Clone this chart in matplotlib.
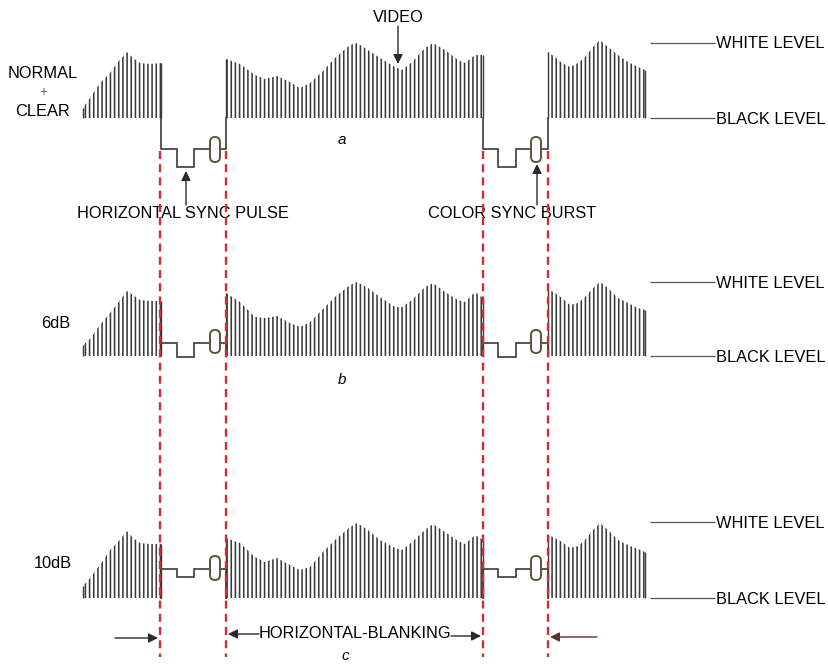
import matplotlib
matplotlib.use('Agg')
import matplotlib.pyplot as plt
from matplotlib.patches import FancyBboxPatch

plt.rcParams['font.family'] = ['Liberation Sans', 'DejaVu Sans']
plt.rcParams['hatch.linewidth'] = 1.15
plt.rcParams['hatch.color'] = '#3c3c3c'

# envelope sample positions of the three video stretches (same in each trace)
seg1_x = [83, 90, 100, 110, 118, 127, 133, 140, 150, 161]
seg2_x = [226, 240, 255, 265, 277, 290, 300, 310, 322, 335, 350, 357, 368,
          380, 395, 402, 412, 425, 433, 445, 458, 465, 475, 483]
seg3_x = [548, 555, 562, 570, 578, 585, 593, 600, 608, 618, 628, 638, 645]

# envelope tops (figure pixel rows) for traces a, b, c
a_seg1 = [108, 98, 83, 73, 62, 52, 58, 63, 64, 63]
a_seg2 = [59, 64, 75, 79, 76, 82, 88, 83, 72, 58, 45, 43, 50, 58, 67, 70,
          62, 48, 43, 50, 60, 63, 55, 55]
a_seg3 = [52, 57, 63, 67, 63, 57, 47, 40, 47, 55, 62, 67, 70]

b_seg1 = [345, 339, 325, 313, 303, 291, 295, 300, 301, 301]
b_seg2 = [293, 302, 317, 318, 316, 323, 327, 322, 310, 297, 285, 282, 288,
          297, 307, 307, 300, 287, 283, 292, 300, 302, 292, 298]
b_seg3 = [289, 293, 298, 305, 303, 297, 288, 282, 288, 298, 303, 308, 310]

c_seg1 = [586, 578, 565, 550, 542, 531, 538, 543, 544, 544]
c_seg2 = [538, 543, 557, 562, 558, 565, 570, 567, 553, 540, 527, 523, 530,
          540, 548, 550, 542, 530, 524, 532, 541, 544, 535, 540]
c_seg3 = [535, 538, 542, 548, 546, 540, 530, 523, 530, 540, 545, 549, 552]

# levels per trace
black_lvl = [118, 356, 598]
white_lvl = [43, 282, 522]
blank_lvl = [149, 343, 569]
sync_tip = [167, 357, 577]
burst_top = [137, 330, 556]
burst_bot = [162, 353, 580]

# blanking interval timing
blank_x = [161, 483]
pulse_x0 = [177, 498]
pulse_x1 = [194, 516]
burst_x = [215, 536]
video_x = [226, 548]
marker_x = [160, 226, 483, 548]

traces = [(a_seg1, a_seg2, a_seg3), (b_seg1, b_seg2, b_seg3), (c_seg1, c_seg2, c_seg3)]

fig = plt.figure(figsize=(8.29, 6.66), dpi=100)
ax = fig.add_axes([0, 0, 1, 1])
ax.set_xlim(0, 829)
ax.set_ylim(666, 0)
ax.axis('off')

line_col = '#3a3a3a'
red = '#d42a3a'
fs = 11.8

for i, segs in enumerate(traces):
    base = black_lvl[i]
    # video bars
    for sx, sy in zip([seg1_x, seg2_x, seg3_x], segs):
        ax.fill_between(sx, sy, base, facecolor='none', edgecolor=line_col,
                        hatch='||||', linewidth=0)
        ax.vlines([sx[0], sx[-1]], [sy[0], sy[-1]], base, color=line_col, lw=1.0)
    # blanking / sync / burst
    for k in range(2):
        xs = [blank_x[k], blank_x[k], pulse_x0[k], pulse_x0[k], pulse_x1[k],
              pulse_x1[k], video_x[k], video_x[k]]
        ys = [base, blank_lvl[i], blank_lvl[i], sync_tip[i], sync_tip[i],
              blank_lvl[i], blank_lvl[i], base]
        ax.plot(xs, ys, color=line_col, lw=1.2, solid_joinstyle='miter')
        w = 10
        h = burst_bot[i] - burst_top[i]
        ax.add_patch(FancyBboxPatch((burst_x[k] - w / 2, burst_top[i]), w, h,
                                    boxstyle=f'round,pad=0,rounding_size={w / 2}',
                                    facecolor='white', edgecolor='#5e5238', lw=1.4,
                                    zorder=3))
    # level references
    ax.hlines([white_lvl[i], black_lvl[i]], 650, 715, color='#555555', lw=0.9)
    ax.text(716, white_lvl[i] + 1, 'WHITE LEVEL', fontsize=fs, va='center', ha='left')
    ax.text(716, black_lvl[i] + 1, 'BLACK LEVEL', fontsize=fs, va='center', ha='left')

# side labels
ax.text(43, 73, 'NORMAL', fontsize=fs, ha='center', va='center')
ax.text(43, 92, '+', fontsize=10, ha='center', va='center', color='#666666')
ax.text(43, 112, 'CLEAR', fontsize=fs, ha='center', va='center')
ax.text(56, 323, '6dB', fontsize=fs, ha='center', va='center')
ax.text(53, 564, '10dB', fontsize=fs, ha='center', va='center')

ax.text(342, 140, 'a', fontsize=11, style='italic', ha='center', va='center')
ax.text(342, 380, 'b', fontsize=11, style='italic', ha='center', va='center')
ax.text(345, 656, 'c', fontsize=11, style='italic', ha='center', va='center')

arrow = dict(arrowstyle='-|>', color='#2a2a2a', lw=1.0, mutation_scale=14,
             shrinkA=0, shrinkB=0)

ax.text(398, 17, 'VIDEO', fontsize=fs, ha='center', va='center')
ax.annotate('', xy=(398, 64), xytext=(398, 26), arrowprops=arrow)

ax.text(183, 214, 'HORIZONTAL SYNC PULSE', fontsize=fs, ha='center', va='center')
ax.annotate('', xy=(186, 171), xytext=(186, 205), arrowprops=arrow)
ax.text(512, 214, 'COLOR SYNC BURST', fontsize=fs, ha='center', va='center')
ax.annotate('', xy=(537, 164), xytext=(537, 205), arrowprops=arrow)

# timing markers
ax.vlines(marker_x, 151, 657, color=red, lw=1.7, linestyles=(0, (3.4, 2.2)),
          zorder=4)

ax.text(355, 634, 'HORIZONTAL-BLANKING', fontsize=fs, ha='center', va='center')
ax.annotate('', xy=(228, 634), xytext=(259, 634), arrowprops=arrow)
ax.annotate('', xy=(481, 636), xytext=(451, 636), arrowprops=arrow)
ax.annotate('', xy=(158, 638), xytext=(115, 638), arrowprops=arrow)
ax.annotate('', xy=(550, 637), xytext=(597, 637), arrowprops=dict(arrow, color='#5a3030'))

fig.savefig('out.png', dpi=100, facecolor='white')
